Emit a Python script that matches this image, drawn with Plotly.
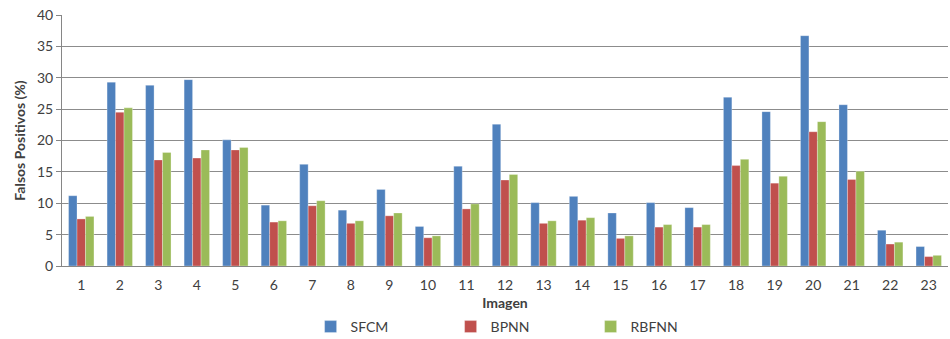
import plotly.graph_objects as go

categories = [str(i) for i in range(1, 24)]
sfcm = [11.2, 29.3, 28.8, 29.7, 20.1, 9.7, 16.2, 8.9, 12.2, 6.3, 15.9, 22.6, 10.1, 11.1, 8.45, 10.1, 9.3, 26.9, 24.6, 36.7, 25.7, 5.7, 3.1]
bpnn = [7.5, 24.5, 16.9, 17.2, 18.5, 7.0, 9.6, 6.8, 8.0, 4.5, 9.1, 13.7, 6.8, 7.3, 4.4, 6.2, 6.2, 16.0, 13.2, 21.4, 13.8, 3.5, 1.5]
rbfnn = [7.9, 25.2, 18.1, 18.5, 18.9, 7.2, 10.4, 7.2, 8.45, 4.8, 9.9, 14.6, 7.2, 7.7, 4.8, 6.6, 6.6, 17.0, 14.3, 23.0, 15.1, 3.8, 1.7]

series = [("SFCM", sfcm, "#4F81BD"), ("BPNN", bpnn, "#C0504D"), ("RBFNN", rbfnn, "#9BBB59")]

fig = go.Figure()
for name, vals, color in series:
    fig.add_trace(go.Bar(
        x=categories, y=vals, name=name,
        marker=dict(color=color, line=dict(color="rgba(255,255,255,0.5)", width=0.6)),
    ))

font = "Lato, 'Open Sans', sans-serif"
fig.update_layout(
    width=950, height=339,
    margin=dict(l=62, r=2, t=15, b=73, autoexpand=False),
    paper_bgcolor="white", plot_bgcolor="white",
    barmode="group", bargap=0.34, bargroupgap=0.0,
    font=dict(family=font, size=14, color="#404040"),
    showlegend=True,
    legend=dict(orientation="h", x=0.548, xanchor="center", xref="container",
                y=1 - 327 / 339, yanchor="middle", yref="container",
                entrywidth=95, font=dict(size=14, color="#404040"),
                itemwidth=30, tracegroupgap=0),
    xaxis=dict(
        type="category", showgrid=False, showline=True, linecolor="#868686",
        ticks="", tickfont=dict(size=14), automargin=False, ticklabelstandoff=6,
        title=dict(text="<b>Imagen</b>", font=dict(size=14), standoff=11),
    ),
    yaxis=dict(
        range=[0, 40], dtick=5, showgrid=True, gridcolor="#8C8C8C", gridwidth=1,
        showline=True, linecolor="#868686", ticks="outside", ticklen=5, tickcolor="#868686",
        tickfont=dict(size=14), zeroline=False, automargin=False,
        title=dict(text="<b>Falsos Positivos (%)</b>", font=dict(size=14), standoff=8),
    ),
)

fig.write_html("out.html", config={"displayModeBar": False},
               post_script="document.body.style.margin='0';document.body.style.overflow='hidden';")
